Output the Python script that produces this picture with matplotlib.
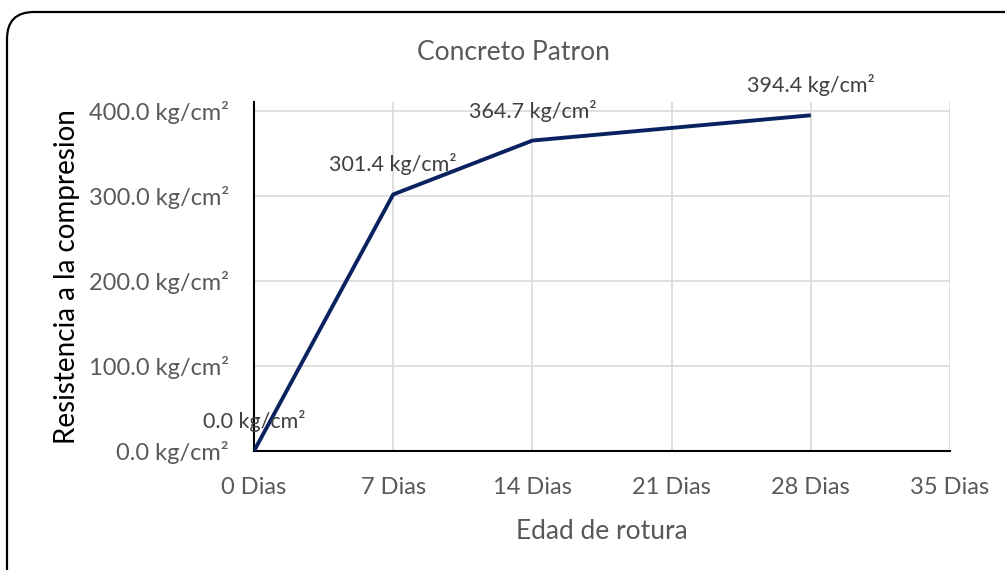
import matplotlib.pyplot as plt
from matplotlib.patches import FancyBboxPatch

# datos del ensayo
dias = [0, 7, 14, 28]
resistencia = [0.0, 301.4, 364.7, 394.4]
x_ticks = [0, 7, 14, 21, 28, 35]
y_ticks = [0, 100, 200, 300, 400]

plt.rcParams['font.family'] = ['Lato', 'DejaVu Sans']
gris = '#595959'

fig = plt.figure(figsize=(10.05, 5.7), dpi=100)
ax = fig.add_axes([254 / 1005, 1 - 451 / 570, (950 - 254) / 1005, (451 - 102) / 570])

# marco redondeado (en pixeles)
marco = FancyBboxPatch((7, -60), 1100, 570 - 12 + 60,
                       boxstyle='round,pad=0,rounding_size=27',
                       transform=None, fill=False, lw=1.6, edgecolor='black')
fig.patches.append(marco)

ax.plot(dias, resistencia, color='#0A2260', lw=2.8, solid_capstyle='butt', zorder=3)
for d, r in zip(dias, resistencia):
    ax.annotate(f'{r:.1f} kg/cm²', (d, r), xytext=(0, 30), textcoords='offset pixels',
                ha='center', va='center', fontsize=15.5, color='#404040', zorder=4)

ax.set_xlim(0, 35)
ax.set_ylim(0, 410)
ax.set_xticks(x_ticks)
ax.set_xticklabels([f'{t} Dias' for t in x_ticks])
ax.set_yticks(y_ticks)
ax.set_yticklabels([f'{t:.1f} kg/cm²' for t in y_ticks])
ax.grid(True, color='#D9D9D9', lw=1.2)
ax.set_axisbelow(True)
ax.tick_params(length=0, labelsize=17, labelcolor=gris)
ax.tick_params(axis='y', pad=18)
ax.tick_params(axis='x', pad=19)
for s in ['top', 'right']:
    ax.spines[s].set_visible(False)
for s in ['left', 'bottom']:
    ax.spines[s].set_color('black')
    ax.spines[s].set_linewidth(1.5)

ax.set_xlabel('Edad de rotura', fontsize=19, color=gris, labelpad=15)
ax.set_ylabel('Resistencia a la compresion', fontsize=20, color='black', labelpad=6)
fig.text(513 / 1005, 1 - 52 / 570, 'Concreto Patron', ha='center', va='center',
         fontsize=19, color=gris)

fig.savefig('out.png', dpi=100)
